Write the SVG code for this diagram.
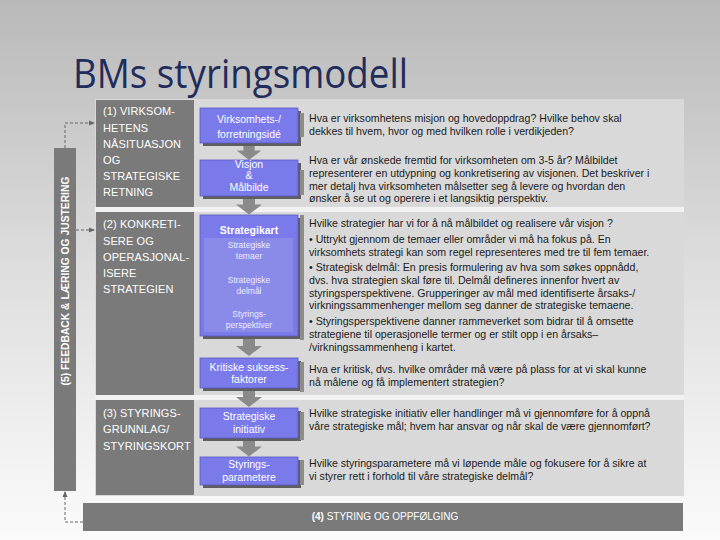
<svg xmlns="http://www.w3.org/2000/svg" width="720" height="540" viewBox="0 0 720 540">
<defs>
<linearGradient id="bg" x1="0" y1="0" x2="0" y2="1">
<stop offset="0" stop-color="#b9b9b9"/>
<stop offset="0.5" stop-color="#dedede"/>
<stop offset="1" stop-color="#fbfbfb"/>
</linearGradient>
<marker id="ah" markerWidth="6" markerHeight="6" refX="5" refY="3" orient="auto" markerUnits="userSpaceOnUse">
<path d="M0,0.5 L6,3 L0,5.5 Z" fill="#666"/>
</marker>
<symbol id="darr" viewBox="0 0 26 18" overflow="visible">
<path d="M7,0 H19 V8 H26 L13,18 L0,8 H7 Z"/>
</symbol>
</defs>
<style>
.lbl{font-family:"Liberation Sans",Arial,sans-serif;font-size:11px;fill:#ffffff;letter-spacing:0.1px}
.bx{font-family:"Liberation Sans",Arial,sans-serif;font-size:10.5px;fill:#ffffff;text-anchor:middle}
.sub{font-family:"Liberation Sans",Arial,sans-serif;font-size:8.5px;fill:#ececff;text-anchor:middle}
.tx{font-family:"Liberation Sans",Arial,sans-serif;font-size:10.6px;fill:#1a1a1a}
.dark{fill:#7a7a7a}
.blue{fill:#7a7aea;stroke:#5a5ac4;stroke-width:0.8}
.shadow{fill:#5e5e5e}
.tab{fill:#8c8c8c}
.arr{fill:#8a8a8a}
.dash{fill:none;stroke:#666;stroke-width:1;stroke-dasharray:3,2}
</style>
<rect x="0" y="0" width="720" height="540" fill="url(#bg)"/>
<text x="73" y="88" font-family="'Open Sans','Noto Sans',sans-serif" font-size="40" fill="#1f2c5c" textLength="335" lengthAdjust="spacingAndGlyphs">BMs styringsmodell</text>

<!-- main panel -->
<rect x="95" y="99" width="589" height="397" fill="#d9d9d9"/>
<rect x="95" y="207" width="589" height="5" fill="#f2f2f2"/>
<rect x="95" y="395" width="589" height="5" fill="#f2f2f2"/>

<g id="section1">
<rect class="dark" x="96" y="100" width="98" height="107"/>
<text class="lbl" x="103" y="115">(1)  VIRKSOM-</text>
<text class="lbl" x="103" y="132">HETENS</text>
<text class="lbl" x="103" y="148">NÅSITUASJON</text>
<text class="lbl" x="103" y="164">OG</text>
<text class="lbl" x="103" y="180">STRATEGISKE</text>
<text class="lbl" x="103" y="196">RETNING</text>
</g>
<g id="section2">
<rect class="dark" x="96" y="212" width="98" height="183"/>
<text class="lbl" x="103" y="228">(2) KONKRETI-</text>
<text class="lbl" x="103" y="245">SERE OG</text>
<text class="lbl" x="103" y="261">OPERASJONAL-</text>
<text class="lbl" x="103" y="277">ISERE</text>
<text class="lbl" x="103" y="293">STRATEGIEN</text>
</g>
<g id="section3">
<rect class="dark" x="96" y="400" width="98" height="95"/>
<text class="lbl" x="103" y="417">(3) STYRINGS-</text>
<text class="lbl" x="103" y="433">GRUNNLAG/</text>
<text class="lbl" x="103" y="450">STYRINGSKORT</text>
</g>

<g id="feedback">
<rect class="dark" x="54" y="148" width="22" height="343"/>
<text x="0" y="0" transform="translate(69,281) rotate(-90)" font-family="'Liberation Sans',Arial,sans-serif" font-size="10.3" font-weight="bold" fill="#ffffff" text-anchor="middle">(5) FEEDBACK &amp; LÆRING OG JUSTERING</text>
</g>
<g id="oppfolging">
<rect class="dark" x="83" y="503" width="600" height="28"/>
<text x="385" y="520" font-family="'Liberation Sans',Arial,sans-serif" font-size="10" fill="#ffffff" text-anchor="middle"><tspan font-weight="bold">(4)</tspan> STYRING OG OPPFØLGING</text>
</g>

<!-- connectors -->
<g id="connectors">
<path class="dash" d="M65,148 V123 H94" marker-end="url(#ah)"/>
<path class="dash" d="M76,230 H94" marker-end="url(#ah)"/>
<path class="dash" d="M83,522 H65 V492" marker-end="url(#ah)"/>
<g class="arr">
<use href="#darr" x="236" y="143" width="26" height="17"/>
<use href="#darr" x="236" y="196" width="26" height="19"/>
<use href="#darr" x="236" y="336" width="26" height="22"/>
<use href="#darr" x="236" y="388" width="26" height="20"/>
<use href="#darr" x="236" y="438" width="26" height="19"/>
</g>
</g>

<g id="b1">
<rect class="shadow" x="203" y="111" width="98" height="35"/>
<rect class="blue" x="200" y="108" width="98" height="35"/>
<text class="bx" x="249" y="123">Virksomhets-/</text>
<text class="bx" x="249" y="138">forretningsidé</text>
</g>
<g id="b2">
<rect class="shadow" x="203" y="163" width="98" height="36"/>
<rect class="blue" x="200" y="160" width="98" height="36"/>
<text class="bx" x="249" y="168">Visjon</text>
<text class="bx" x="249" y="179" font-size="7">&amp;</text>
<text class="bx" x="249" y="191">Målbilde</text>
</g>
<g id="b3">
<rect class="shadow" x="203" y="218" width="98" height="121"/>
<rect class="blue" x="200" y="215" width="98" height="121"/>
<rect x="204" y="238" width="89" height="94" fill="#8a8ae8"/>
<text class="bx" x="249" y="234" font-weight="bold" font-size="10">Strategikart</text>
<text class="sub" x="249" y="248">Strategiske</text>
<text class="sub" x="249" y="259">temaer</text>
<text class="sub" x="249" y="283">Strategiske</text>
<text class="sub" x="249" y="294">delmål</text>
<text class="sub" x="249" y="317">Styrings-</text>
<text class="sub" x="249" y="328">perspektiver</text>
</g>
<g id="b4">
<rect class="shadow" x="203" y="361" width="98" height="30"/>
<rect class="blue" x="200" y="358" width="98" height="30"/>
<text class="bx" x="249" y="371">Kritiske suksess-</text>
<text class="bx" x="249" y="383">faktorer</text>
</g>
<g id="b5">
<rect class="shadow" x="203" y="411" width="98" height="30"/>
<rect class="blue" x="200" y="408" width="98" height="30"/>
<text class="bx" x="249" y="420">Strategiske</text>
<text class="bx" x="249" y="433">initiativ</text>
</g>
<g id="b6">
<rect class="shadow" x="203" y="460" width="98" height="28"/>
<rect class="blue" x="200" y="457" width="98" height="28"/>
<text class="bx" x="249" y="468">Styrings-</text>
<text class="bx" x="249" y="481">parametere</text>
</g>

<g id="texts">
<rect class="tab" x="300" y="113" width="4" height="24"/>
<rect class="tab" x="300" y="170" width="4" height="25"/>
<rect class="tab" x="300" y="215" width="4" height="125"/>
<rect class="tab" x="300" y="362" width="4" height="30"/>
<rect class="tab" x="300" y="412" width="4" height="28"/>
<rect class="tab" x="300" y="460" width="4" height="25"/>
<text class="tx" x="309" y="122">Hva er virksomhetens misjon og hovedoppdrag? Hvilke behov skal</text>
<text class="tx" x="309" y="135">dekkes til hvem, hvor og med hvilken rolle i verdikjeden?</text>
<text class="tx" x="309" y="164">Hva er vår ønskede fremtid for virksomheten om 3-5 år? Målbildet</text>
<text class="tx" x="309" y="177">representerer en utdypning og konkretisering av visjonen. Det beskriver i</text>
<text class="tx" x="309" y="190">mer detalj hva virksomheten målsetter seg å levere og hvordan den</text>
<text class="tx" x="309" y="202">ønsker å se ut og operere i et langsiktig perspektiv.</text>
<text class="tx" x="309" y="227">Hvilke strategier har vi for å nå målbildet og realisere vår visjon ?</text>
<text class="tx" x="309" y="243">• Uttrykt gjennom de temaer eller områder vi må ha fokus på. En</text>
<text class="tx" x="309" y="256">virksomhets strategi kan som regel representeres med tre til fem temaer.</text>
<text class="tx" x="309" y="271">• Strategisk delmål: En presis formulering av hva som søkes oppnådd,</text>
<text class="tx" x="309" y="284">dvs. hva strategien skal føre til. Delmål defineres innenfor hvert av</text>
<text class="tx" x="309" y="297">styringsperspektivene. Grupperinger av mål med identifiserte årsaks-/</text>
<text class="tx" x="309" y="309">virkningssammenhenger mellom seg danner de strategiske temaene.</text>
<text class="tx" x="309" y="325">• Styringsperspektivene danner rammeverket som bidrar til å omsette</text>
<text class="tx" x="309" y="338">strategiene til operasjonelle termer og er stilt opp i en årsaks–</text>
<text class="tx" x="309" y="351">/virkningssammenheng i kartet.</text>
<text class="tx" x="309" y="373">Hva er kritisk, dvs. hvilke områder må være på plass for at vi skal kunne</text>
<text class="tx" x="309" y="386">nå målene og få implementert strategien?</text>
<text class="tx" x="309" y="417">Hvilke strategiske initiativ eller handlinger må vi gjennomføre for å oppnå</text>
<text class="tx" x="309" y="430">våre strategiske mål; hvem har ansvar og når skal de være gjennomført?</text>
<text class="tx" x="309" y="467">Hvilke styringsparametere må vi løpende måle og fokusere for å sikre at</text>
<text class="tx" x="309" y="480">vi styrer rett i forhold til våre strategiske delmål?</text>
</g>
</svg>
